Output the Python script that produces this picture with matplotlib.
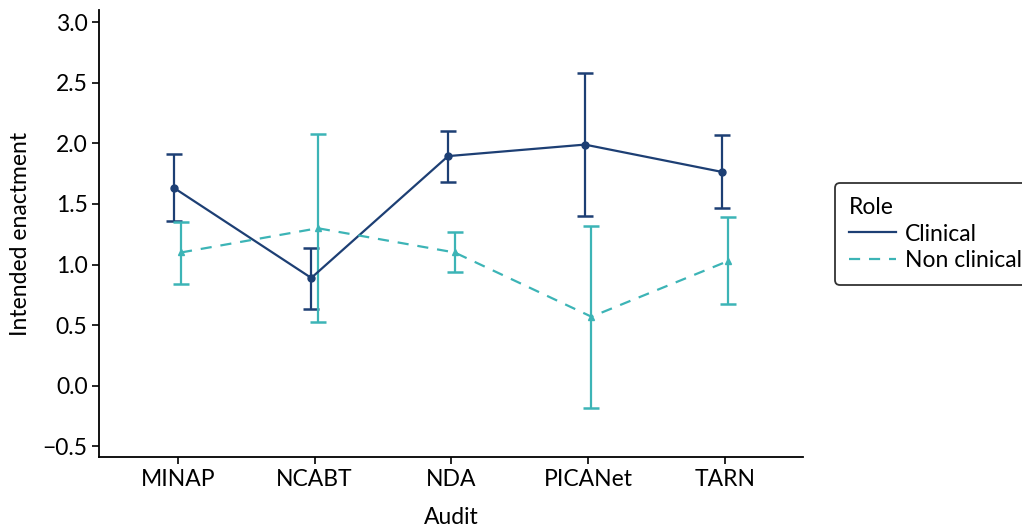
import numpy as np
import matplotlib.pyplot as plt
from matplotlib.lines import Line2D

plt.rcParams['font.family'] = ['Lato', 'DejaVu Sans']

audits = ["MINAP", "NCABT", "NDA", "PICANet", "TARN"]

clin_mean = [1.63, 0.89, 1.895, 1.99, 1.765]
clin_low = [1.36, 0.63, 1.68, 1.405, 1.465]
clin_high = [1.91, 1.14, 2.10, 2.58, 2.07]

non_mean = [1.10, 1.30, 1.10, 0.57, 1.03]
non_low = [0.84, 0.525, 0.935, -0.18, 0.675]
non_high = [1.355, 2.08, 1.265, 1.32, 1.395]

navy = "#1d3f74"
teal = "#3cb4b6"
fs = 16.5

fig = plt.figure(figsize=(10.22, 5.29), dpi=100)
ax = fig.add_axes([0.0972, 0.1355, 0.6885, 0.8455])

x = np.arange(1, len(audits) + 1)
dodge = 0.024

cm = np.array(clin_mean)
nm = np.array(non_mean)
ax.errorbar(x - dodge, cm, yerr=[cm - np.array(clin_low), np.array(clin_high) - cm],
            color=navy, lw=1.6, marker="o", ms=5, capsize=6, capthick=1.8,
            elinewidth=1.6, label="Clinical")
ax.errorbar(x + dodge, nm, yerr=[nm - np.array(non_low), np.array(non_high) - nm],
            color=teal, lw=1.6, ls=(0, (5, 4)), marker="^", ms=4.5, capsize=6, capthick=1.8,
            elinewidth=1.6, label="Non clinical")

ax.set_xlim(0.427, 5.57)
ax.set_ylim(-0.59, 3.1)
ax.set_xticks(x)
ax.set_xticklabels(audits)
ax.set_yticks(np.arange(-0.5, 3.01, 0.5))
ax.set_yticklabels(["\u22120.5"] + [f"{v:.1f}" for v in np.arange(0, 3.01, 0.5)])
ax.tick_params(labelsize=fs, length=5, width=1.2, colors="black")
for s in ["top", "right"]:
    ax.spines[s].set_visible(False)
for s in ["left", "bottom"]:
    ax.spines[s].set_linewidth(1.3)
ax.set_xlabel("Audit", fontsize=fs, labelpad=12)
ax.set_ylabel("Intended enactment", fontsize=fs, labelpad=8)

handles = [Line2D([], [], color=navy, lw=1.6),
           Line2D([], [], color=teal, lw=1.6, ls=(0, (5, 4)))]
leg = fig.legend(handles, ["Clinical", "Non clinical"], title="Role",
                 loc="upper left", bbox_to_anchor=(0.817, 0.654), borderaxespad=0,
                 fontsize=fs, title_fontsize=fs, frameon=True, fancybox=True,
                 handlelength=2.05, handletextpad=0.4, borderpad=0.6,
                 labelspacing=0.25, alignment="left")
leg.get_frame().set_edgecolor("black")
leg.get_frame().set_linewidth(1.3)

fig.savefig("out.png", dpi=100)
